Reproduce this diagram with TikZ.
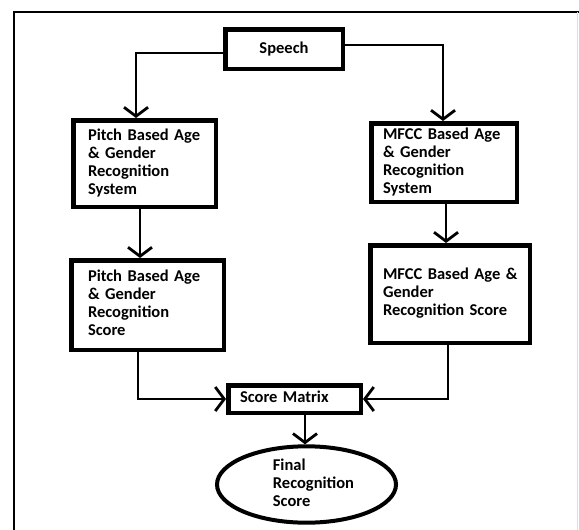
\documentclass[tikz,border=0pt]{standalone}
\usepackage{fontspec}
\setmainfont{Carlito}
\usetikzlibrary{arrows.meta,shapes.geometric,calc}
\newcommand{\boxlines}[1]{\begin{tabular}{@{}l@{}}#1\end{tabular}}
\begin{document}
\begin{tikzpicture}[x=1pt,y=-1pt,
  box/.style={draw=black,line width=4.5pt,fill=white,inner sep=0pt,align=left,
    font=\fontsize{16.5}{18}\selectfont\bfseries},
  oval/.style={ellipse,draw=black,line width=4pt,fill=white,inner sep=0pt,align=left,
    font=\fontsize{16.5}{18}\selectfont\bfseries},
  conn/.style={line width=2pt,-{Straight Barb[length=9pt,width=24pt,line width=2.8pt]}},
  frame/.style={line width=2.5pt}]
\useasboundingbox (0,0) rectangle (579,530);
\fill[white] (0,0) rectangle (579,530);
\renewcommand{\arraystretch}{1}
\setlength{\tabcolsep}{0pt}
% outer frame (cut by the picture's edges)
\draw[frame] (14,530) -- (14,12) -- (579,12);
\draw[gray!25,line width=1pt] (577.5,12) -- (577.5,530);
% boxes
\node[box,minimum width=117.5pt,minimum height=39.5pt] (sp) at (284,49) {Speech};
\node[box,minimum width=142.5pt,minimum height=86.5pt,text width=113pt] (p1) at (144.5,163.5)
  {\boxlines{Pitch Based Age\\\& Gender\\Recognition\\System}};
\node[box,minimum width=152.5pt,minimum height=89.5pt,text width=119pt] (p2) at (147.5,305)
  {\boxlines{Pitch Based Age\\\& Gender\\Recognition\\Score}};
\node[box,minimum width=145.5pt,minimum height=78.5pt,text width=122pt] (m1) at (444,162.5)
  {\boxlines{MFCC Based Age\\\& Gender\\Recognition\\System}};
\node[box,minimum width=159.5pt,minimum height=97.5pt,text width=134pt] (m2) at (450,294)
  {\boxlines{MFCC Based Age \&\\Gender\\Recognition Score}};
\node[box,minimum width=132.5pt,minimum height=27.5pt,text width=109pt] (sc) at (294.5,399)
  {\boxlines{Score Matrix}};
\node[oval,minimum width=179pt,minimum height=71pt] (fr) at (306.5,484.5)
  {\begin{tabular}{@{\hspace{14pt}}l@{}}Final\\Recognition\\Score\end{tabular}};
% connectors
\draw[conn] ([yshift=-4pt]sp.west) -| ([xshift=-8.5pt]p1.north);
\draw[conn] ([yshift=4pt]sp.east) -| ([xshift=-1pt]m1.north);
\draw[conn] ([xshift=-4.5pt]p1.south) -- ([xshift=-4.5pt]p1.south |- p2.north);
\draw[conn] ([xshift=2pt]m1.south) -- ([xshift=2pt]m1.south |- m2.north);
\draw[conn] ([xshift=-9.5pt]p2.south) |- (sc.west);
\draw[conn] ([xshift=-2pt]m2.south) |- (sc.east);
\draw[conn] ([xshift=-1.5pt]fr.north |- sc.south) -- ([xshift=-1.5pt]fr.north);
\end{tikzpicture}
\end{document}
